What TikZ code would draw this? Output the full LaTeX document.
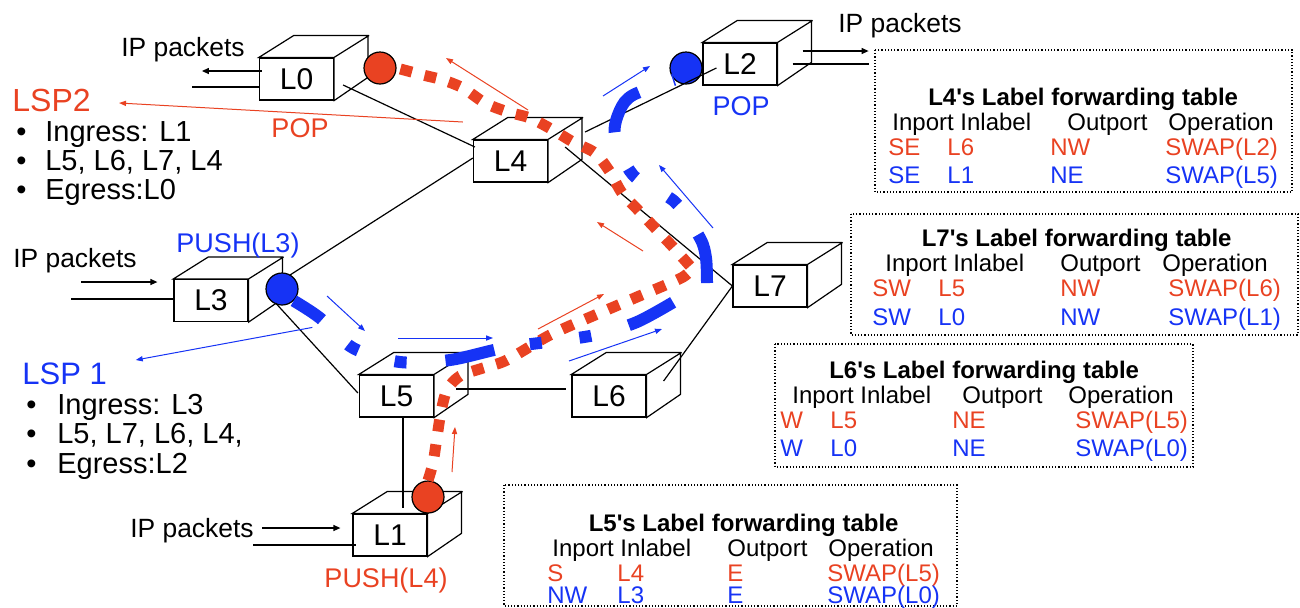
\documentclass[tikz,border=0pt]{standalone}
\usepackage{fontspec}
\setmainfont{Liberation Sans}
\usepackage{array}
\usetikzlibrary{arrows.meta, positioning, calc}
\definecolor{lspred}{RGB}{233,66,34}
\definecolor{lspblue}{RGB}{22,51,245}
\newcommand{\rd}[1]{\textcolor{lspred}{#1}}
\newcommand{\bl}[1]{\textcolor{lspblue}{#1}}

\begin{document}
\begin{tikzpicture}[x=0.5pt, y=-0.5pt,
  router/.style={draw, fill=white, line width=0.6pt, minimum width=37pt, minimum height=21pt, inner sep=0pt, font=\fontsize{15}{17}\selectfont},
  link/.style={line width=0.6pt},
  ip/.style={line width=0.6pt},
  iparrow/.style={line width=0.6pt, -{Triangle[length=3.5pt,width=3pt]}},
  flowred/.style={draw=lspred, line width=0.5pt, -{Triangle[length=3.5pt,width=2.6pt]}},
  flowblue/.style={draw=lspblue, line width=0.5pt, -{Triangle[length=3.5pt,width=2.6pt]}},
  redlsp/.style={draw=lspred, line width=5.5pt, dash pattern=on 6pt off 6.5pt},
  bluelsp/.style={draw=lspblue, line width=6pt, dash pattern=on 25pt off 18pt on 6pt off 19pt on 6pt off 19.5pt},
  reddot/.style={circle, draw, line width=0.6pt, fill=lspred, minimum size=16pt, inner sep=0pt},
  bluedot/.style={circle, draw, line width=0.6pt, fill=lspblue, minimum size=16pt, inner sep=0pt},
  iptext/.style={font=\fontsize{13.2}{15}\selectfont, inner sep=0pt},
  optext/.style={font=\fontsize{13.5}{15}\selectfont, inner sep=0pt},
  lsphead/.style={anchor=west, inner sep=0pt},
  lspitem/.style={font=\fontsize{14.5}{16}\selectfont, anchor=base west, inner sep=0pt},
  tabbox/.style={densely dotted, line width=0.6pt},
  lftable/.style={font=\fontsize{12}{12.5}\selectfont, anchor=base west, inner sep=0pt}]

\useasboundingbox (0,0) rectangle (1300,607);

% routers
\node[router] (l0) at (296.5,79) {L0};
\node[router] (l4) at (510.5,161) {L4};
\node[router] (l2) at (740,64) {L2};
\node[router] (l3) at (211,300.5) {L3};
\node[router] (l5) at (396.5,396) {L5};
\node[router] (l6) at (609,396) {L6};
\node[router] (l7) at (770,286) {L7};
\node[router] (l1) at (390,535) {L1};
\foreach \r in {l0,l1,l2,l3,l4,l5,l6,l7}
  \draw[fill=white, line width=0.6pt] (\r.north west) -- ++(17.5pt,11pt) -- ++(37pt,0pt) -- ++(0pt,-21pt)
    -- (\r.south east) -- (\r.north east) -- cycle (\r.north east) -- ++(17.5pt,11pt);

% push / pop points
\node[reddot] (popl0) at (380,68) {};
\node[reddot] (pushl4) at (428,497) {};
\node[bluedot] (pushl3) at (282,289) {};
\node[bluedot] (popl2) at (686,68) {};

% links
\draw[link] ($(l0.east)+(9,6)$) -- ($(l4.west)+(2,-14)$);
\draw[link] ($(pushl3)+(8,-14)$) -- ($(l4.west)+(0,-3)$);
\draw[link] ($(l4.east)+(37,-29)$) -- ($(l2.west)+(14,4)$);
\draw[link] ($(l4.east)+(17,-14)$) -- (l7.west);
\draw[link] (l7.west) -- ($(l6.east)+(17,-15)$);
\draw[link] ($(l3.east)+(27,2.5)$) -- ($(l5.west)+(-1,-3)$);
\draw[link] ($(l5.east)+(22,-7)$) -- ($(l6.west)+(-5,-7)$);
\draw[link] ($(l5.south)+(6.5,0)$) -- ($(l1.north)+(13,-5)$);

% IP packets in and out
\draw[iparrow] ($(l0.west)+(3,-8)$) -- ++(-60,0);
\draw[ip] ($(l0.west)+(0,8)$) -- ++(-67,0);
\draw[iparrow] ($(l2.east)+(25,-13)$) -- ++(66,0);
\draw[ip] ($(l2.east)+(15,0)$) -- ++(76,0);
\draw[iparrow] ($(l3.west)+(-92,-18.5)$) -- ++(76,0);
\draw[ip] ($(l3.west)+(-102,-1.5)$) -- ++(102,0);
\draw[iparrow] ($(l1.west)+(-90,-7)$) -- ++(78,0);
\draw[ip] ($(l1.west)+(-99,10)$) -- ++(103,0);

% LSP2 (red)
\draw[redlsp] plot[smooth, tension=0.5] coordinates {(pushl4.north) (433,463) (437,437) (441,412) (447,390)
  (460,376) (483,368) (507,360) (550,335) (595,315) (637,297) (683,277) (692,266)};
\draw[redlsp] plot[smooth, tension=0.5] coordinates {(690,266) (673,247) (655,228) (638,210) (622,193)
  (610,172) (595,153) (573,142) (553,130) (530,118) (508,112) (485,103) (463,88) (443,80) (423,75) (popl0.east)};

% LSP1 (blue)
\draw[bluelsp, dash phase=8pt] plot[smooth, tension=0.5] coordinates {(pushl3.south east) (320,318) (353,348)
  (400,362) (450,360) (503,348) (547,342) (595,335) (637,322) (677,300)};
\draw[bluelsp] plot[smooth, tension=0.5] coordinates {(707,283) (706,258) (700,238) (675,202) (633,175)
  (615,135) (620,110) (633,95) (popl2.south west)};

% direction of the packets
\foreach \xa/\ya/\xb/\yb in {528/110/446/58, 643/251/597/222, 538/329/604/294, 452/472/455/427}
  \draw[flowred] (\xa,\ya) -- (\xb,\yb);
\foreach \xa/\ya/\xb/\yb in {603/96/650/66, 713/228/659/165, 327/296/365/331, 398/338/493/338, 569/361/662/329}
  \draw[flowblue] (\xa,\ya) -- (\xb,\yb);

% labels
\node[iptext] (ipzero) at (183,50) {IP packets};
\node[iptext] (iptwo) at (900,26) {IP packets};
\node[iptext] (ipthree) at (75,261) {IP packets};
\node[iptext] (ipone) at (192,531) {IP packets};
\node[optext, text=lspred] (popred) at (300,128) {POP};
\node[optext, text=lspblue] (popblue) at (741,106) {POP};
\node[optext, text=lspblue] (pushblue) at (238,245) {PUSH(L3)};
\node[optext, text=lspred] (pushred) at (386,580) {PUSH(L4)};

% LSP lists
\node[lsphead, text=lspred, font=\fontsize{16}{18}\selectfont] (lsptwohead) at (12,100) {LSP2};
\foreach \txt [count=\i] in {Ingress: L1, {L5, L6, L7, L4}, Egress:L0}
  \node[lspitem] (lsptwo\i) at (16,112+29*\i) {\makebox[14.5pt][l]{\textbullet}\txt};
\node[lsphead, text=lspblue, font=\fontsize{15.5}{18}\selectfont] (lsponehead) at (22,373.5) {LSP 1};
\foreach \txt [count=\i] in {Ingress: L3, {L5, L7, L6, L4,}, Egress:L2}
  \node[lspitem] (lspone\i) at (26,384.5+29.5*\i) {\makebox[15.5pt][l]{\textbullet}\txt};
\draw[flowred] ($(l4.west)+(-10,-39)$) -- ($(lsptwohead.east)+(28,3)$);
\draw[flowblue] ($(l5.north west)+(-46.5,-47)$) -- ($(lsponehead.east)+(28.5,-13.5)$);

% forwarding tables
\draw[tabbox] (875,50) rectangle (1292,192);
\node[lftable] (tabfour) at (888,105) {\begin{tabular}[t]{@{}w{l}{29.5pt}@{}w{l}{51.5pt}@{}w{l}{57.5pt}@{}l@{}}
  \multicolumn{4}{@{}c@{}}{\bfseries L4\textquotesingle s Label forwarding table}\\
  \multicolumn{2}{@{}l@{}}{\hspace*{2pt}Inport Inlabel} & \hspace*{8.5pt}Outport & \hspace*{1.5pt}Operation\\
  \rd{SE} & \rd{L6} & \rd{NW} & \rd{SWAP(L2)}\\[1.5pt]
  \bl{SE} & \bl{L1} & \bl{NE} & \bl{SWAP(L5)}
\end{tabular}};

\draw[tabbox] (851,214) rectangle (1298,335);
\node[lftable] (tabseven) at (872,246) {\begin{tabular}[t]{@{}w{l}{33pt}@{}w{l}{61pt}@{}w{l}{54pt}@{}l@{}}
  \multicolumn{4}{@{}c@{}}{\bfseries L7\textquotesingle s Label forwarding table}\\
  \multicolumn{2}{@{}l@{}}{\hspace*{6.5pt}Inport Inlabel} & Outport & \hspace*{-3pt}Operation\\
  \rd{SW} & \rd{L5} & \rd{NW} & \rd{SWAP(L6)}\\[2pt]
  \bl{SW} & \bl{L0} & \bl{NW} & \bl{SWAP(L1)}
\end{tabular}};

\draw[tabbox] (775,344) rectangle (1193,467);
\node[lftable] (tabsix) at (780,378) {\begin{tabular}[t]{@{}w{l}{25pt}@{}w{l}{61pt}@{}w{l}{61.5pt}@{}l@{}}
  \multicolumn{4}{@{}c@{}}{\bfseries L6\textquotesingle s Label forwarding table}\\
  \multicolumn{2}{@{}l@{}}{\hspace*{6pt}Inport Inlabel} & \hspace*{5pt}Outport & \hspace*{-3.5pt}Operation\\
  \rd{W} & \rd{L5} & \rd{NE} & \rd{SWAP(L5)}\\[1.5pt]
  \bl{W} & \bl{L0} & \bl{NE} & \bl{SWAP(L0)}
\end{tabular}};

\draw[tabbox] (504,485) rectangle (957,606);
\node[lftable] (tabfive) at (547,531) {\begin{tabular}[t]{@{}w{l}{35pt}@{}w{l}{55pt}@{}w{l}{50pt}@{}l@{}}
  \multicolumn{4}{@{}c@{}}{\bfseries L5\textquotesingle s Label forwarding table}\\
  \multicolumn{2}{@{}l@{}}{\hspace*{2.5pt}Inport Inlabel} & Outport & \hspace*{0.5pt}Operation\\
  \rd{S} & \rd{L4} & \rd{E} & \rd{SWAP(L5)}\\[-1.5pt]
  \bl{NW} & \bl{L3} & \bl{E} & \bl{SWAP(L0)}
\end{tabular}};
\end{tikzpicture}
\end{document}
